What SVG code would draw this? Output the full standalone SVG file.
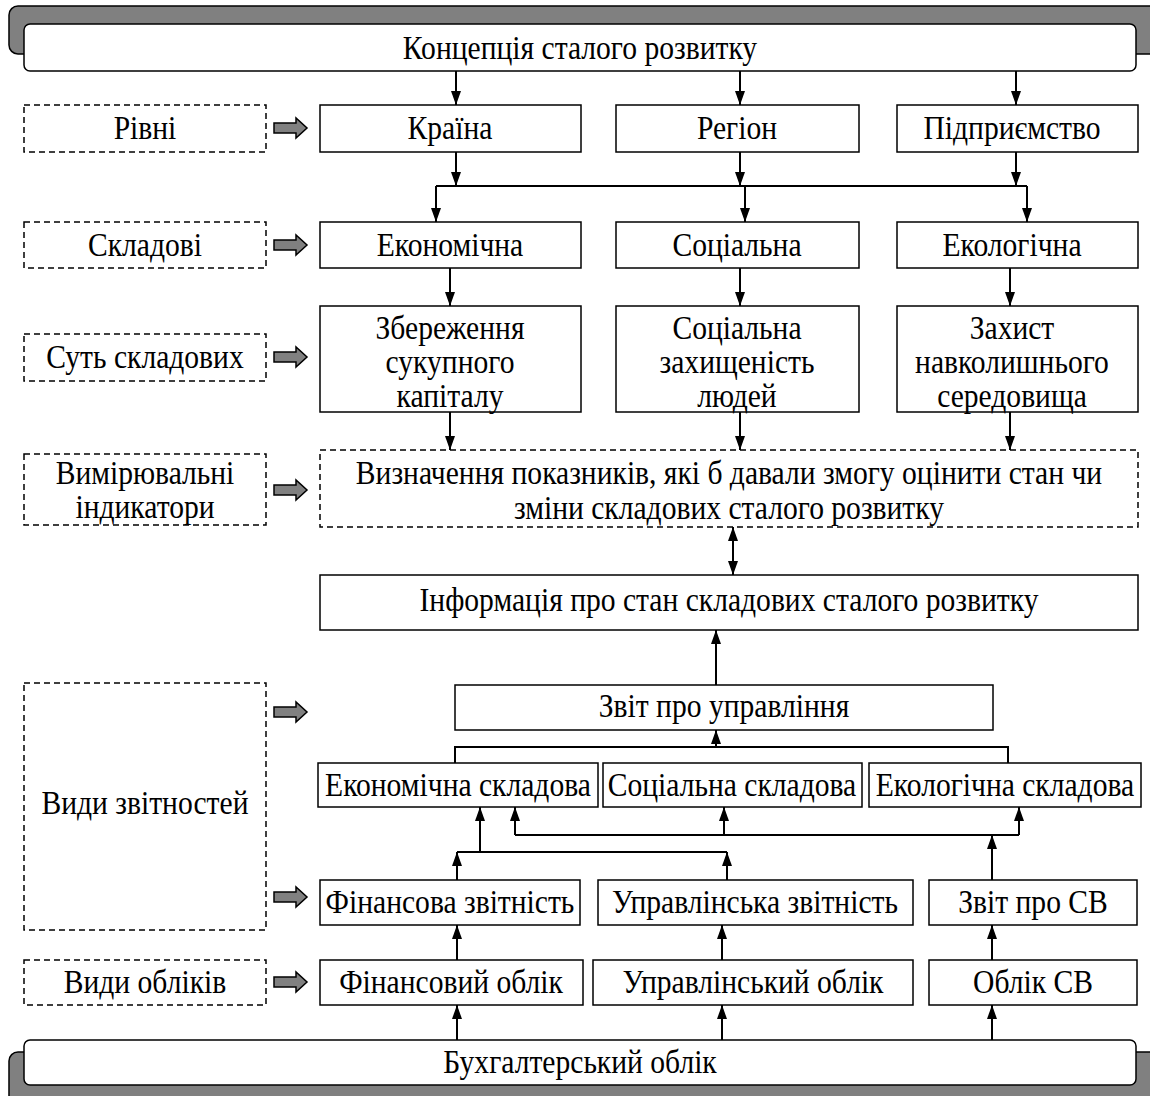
<svg xmlns="http://www.w3.org/2000/svg" width="1150" height="1096" viewBox="0 0 1150 1096">
<style>
.box{fill:#fff;stroke:#000;stroke-width:1.5}
.dash{fill:#fff;stroke:#000;stroke-width:1.5;stroke-dasharray:6 4}
.shadow{fill:#808080;stroke:#000;stroke-width:1.5}
.t{font-family:"Liberation Serif","Times New Roman",serif;font-size:34px;fill:#000;text-anchor:middle;transform-box:fill-box;transform-origin:center;transform:scaleX(0.87)}
.c{fill:none;stroke:#000;stroke-width:2}
.ca{fill:none;stroke:#000;stroke-width:2;marker-end:url(#ah)}
.ga{fill:#808080;stroke:#000;stroke-width:1.5}
</style>
<defs>
<marker id="ah" viewBox="0 0 14 10" refX="14" refY="5" markerWidth="14" markerHeight="10" markerUnits="userSpaceOnUse" orient="auto-start-reverse">
<path d="M0,0 L14,5 L0,10 z" fill="#000"/>
</marker>
<path id="garrow" d="M0,-5 L22,-5 L22,-10 L33,0 L22,10 L22,5 L0,5 z"/>
</defs>
<rect width="1150" height="1096" fill="#fff"/>

<g id="top-banner">
<rect class="shadow" x="9" y="6" width="1150" height="48" rx="9"/>
<rect class="box" x="24" y="24" width="1112" height="47" rx="6"/>
<text class="t" x="580" y="59">Концепція сталого розвитку</text>
</g>

<g id="label-rivni">
<rect class="dash" x="24" y="105" width="242" height="47"/>
<text class="t" x="145" y="139">Рівні</text>
</g>
<g id="label-skladovi">
<rect class="dash" x="24" y="222" width="242" height="46"/>
<text class="t" x="145" y="256">Складові</text>
</g>
<g id="label-sut">
<rect class="dash" x="24" y="334" width="242" height="47"/>
<text class="t" x="145" y="368">Суть складових</text>
</g>
<g id="label-vymir">
<rect class="dash" x="24" y="454" width="242" height="71"/>
<text class="t" x="145" y="484">Вимірювальні</text>
<text class="t" x="145" y="518">індикатори</text>
</g>
<g id="label-zvitn">
<rect class="dash" x="24" y="683" width="242" height="247"/>
<text class="t" x="145" y="814">Види звітностей</text>
</g>
<g id="label-oblik">
<rect class="dash" x="24" y="960" width="242" height="45"/>
<text class="t" x="145" y="993">Види обліків</text>
</g>

<g id="grey-arrows">
<use href="#garrow" class="ga" x="274" y="128"/>
<use href="#garrow" class="ga" x="274" y="245"/>
<use href="#garrow" class="ga" x="274" y="357"/>
<use href="#garrow" class="ga" x="274" y="490"/>
<use href="#garrow" class="ga" x="274" y="712"/>
<use href="#garrow" class="ga" x="274" y="897"/>
<use href="#garrow" class="ga" x="274" y="982"/>
</g>

<g id="n-kraina"><rect class="box" x="320" y="105" width="261" height="47"/><text class="t" x="450" y="139">Країна</text></g>
<g id="n-region"><rect class="box" x="616" y="105" width="243" height="47"/><text class="t" x="737" y="139">Регіон</text></g>
<g id="n-pidpr"><rect class="box" x="897" y="105" width="241" height="47"/><text class="t" x="1012" y="139">Підприємство</text></g>

<g id="n-ekon"><rect class="box" x="320" y="222" width="261" height="46"/><text class="t" x="450" y="256">Економічна</text></g>
<g id="n-soc"><rect class="box" x="616" y="222" width="243" height="46"/><text class="t" x="737" y="256">Соціальна</text></g>
<g id="n-ekol"><rect class="box" x="897" y="222" width="241" height="46"/><text class="t" x="1012" y="256">Екологічна</text></g>

<g id="n-zber"><rect class="box" x="320" y="306" width="261" height="106"/>
<text class="t" x="450" y="339">Збереження</text><text class="t" x="450" y="373">сукупного</text><text class="t" x="450" y="407">капіталу</text></g>
<g id="n-zahyst-lyud"><rect class="box" x="616" y="306" width="243" height="106"/>
<text class="t" x="737" y="339">Соціальна</text><text class="t" x="737" y="373">захищеність</text><text class="t" x="737" y="407">людей</text></g>
<g id="n-zahyst-sered"><rect class="box" x="897" y="306" width="241" height="106"/>
<text class="t" x="1012" y="339">Захист</text><text class="t" x="1012" y="373">навколишнього</text><text class="t" x="1012" y="407">середовища</text></g>

<g id="n-vyznach"><rect class="dash" x="320" y="450" width="818" height="77"/>
<text class="t" x="729" y="484">Визначення показників, які б давали змогу оцінити стан чи</text>
<text class="t" x="729" y="519">зміни складових сталого розвитку</text></g>

<g id="n-info"><rect class="box" x="320" y="575" width="818" height="55"/>
<text class="t" x="729" y="611">Інформація про стан складових сталого розвитку</text></g>

<g id="n-zvit-upr"><rect class="box" x="455" y="685" width="538" height="45"/>
<text class="t" x="724" y="717">Звіт про управління</text></g>

<g id="n-ekon-skl"><rect class="box" x="318" y="763" width="280" height="44"/><text class="t" x="458" y="796">Економічна складова</text></g>
<g id="n-soc-skl"><rect class="box" x="603" y="763" width="259" height="44"/><text class="t" x="732" y="796">Соціальна складова</text></g>
<g id="n-ekol-skl"><rect class="box" x="869" y="763" width="272" height="44"/><text class="t" x="1005" y="796">Екологічна складова</text></g>

<g id="n-fin-zv"><rect class="box" x="320" y="880" width="260" height="45"/><text class="t" x="450" y="913">Фінансова звітність</text></g>
<g id="n-upr-zv"><rect class="box" x="598" y="880" width="315" height="45"/><text class="t" x="755" y="913">Управлінська звітність</text></g>
<g id="n-zvit-sv"><rect class="box" x="929" y="880" width="208" height="45"/><text class="t" x="1033" y="913">Звіт про СВ</text></g>

<g id="n-fin-ob"><rect class="box" x="320" y="960" width="263" height="45"/><text class="t" x="451" y="993">Фінансовий облік</text></g>
<g id="n-upr-ob"><rect class="box" x="593" y="960" width="320" height="45"/><text class="t" x="753" y="993">Управлінський облік</text></g>
<g id="n-ob-sv"><rect class="box" x="929" y="960" width="208" height="45"/><text class="t" x="1033" y="993">Облік СВ</text></g>

<g id="bottom-banner">
<rect class="shadow" x="9" y="1052" width="1150" height="60" rx="9"/>
<rect class="box" x="24" y="1040" width="1112" height="45" rx="6"/>
<text class="t" x="580" y="1073">Бухгалтерський облік</text>
</g>

<g id="connectors">
<line class="ca" x1="456" y1="71" x2="456" y2="105"/>
<line class="ca" x1="740" y1="71" x2="740" y2="105"/>
<line class="ca" x1="1016" y1="71" x2="1016" y2="105"/>
<line class="ca" x1="456" y1="152" x2="456" y2="186"/>
<line class="ca" x1="740" y1="152" x2="740" y2="186"/>
<line class="ca" x1="1016" y1="152" x2="1016" y2="186"/>
<line class="c" x1="436" y1="186" x2="1027" y2="186"/>
<line class="ca" x1="436" y1="186" x2="436" y2="222"/>
<line class="ca" x1="745" y1="186" x2="745" y2="222"/>
<line class="ca" x1="1027" y1="186" x2="1027" y2="222"/>
<line class="ca" x1="450" y1="268" x2="450" y2="306"/>
<line class="ca" x1="740" y1="268" x2="740" y2="306"/>
<line class="ca" x1="1010" y1="268" x2="1010" y2="306"/>
<line class="ca" x1="450" y1="412" x2="450" y2="450"/>
<line class="ca" x1="740" y1="412" x2="740" y2="450"/>
<line class="ca" x1="1010" y1="412" x2="1010" y2="450"/>
<line class="ca" x1="733" y1="527" x2="733" y2="575" marker-start="url(#ah)"/>
<line class="ca" x1="716" y1="685" x2="716" y2="630"/>
<path class="c" d="M455,763 V747 H1008 V763"/>
<line class="ca" x1="716" y1="747" x2="716" y2="730"/>
<line class="c" x1="515" y1="835" x2="1019" y2="835"/>
<line class="ca" x1="515" y1="835" x2="515" y2="807"/>
<line class="ca" x1="724" y1="835" x2="724" y2="807"/>
<line class="ca" x1="1019" y1="835" x2="1019" y2="807"/>
<line class="ca" x1="992" y1="880" x2="992" y2="835"/>
<line class="c" x1="457" y1="852" x2="727" y2="852"/>
<line class="ca" x1="480" y1="852" x2="480" y2="807"/>
<line class="ca" x1="457" y1="880" x2="457" y2="852"/>
<line class="ca" x1="727" y1="880" x2="727" y2="852"/>
<line class="ca" x1="457" y1="960" x2="457" y2="925"/>
<line class="ca" x1="722" y1="960" x2="722" y2="925"/>
<line class="ca" x1="992" y1="960" x2="992" y2="925"/>
<line class="ca" x1="457" y1="1040" x2="457" y2="1005"/>
<line class="ca" x1="722" y1="1040" x2="722" y2="1005"/>
<line class="ca" x1="992" y1="1040" x2="992" y2="1005"/>
</g>
</svg>
